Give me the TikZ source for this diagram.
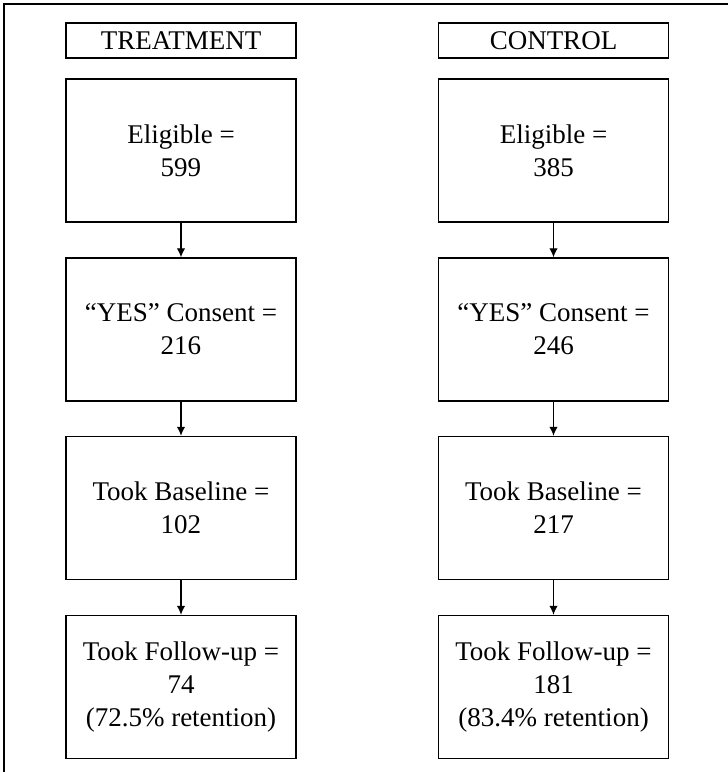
\documentclass[tikz,border=0pt]{standalone}
\usepackage{fontspec}
\setmainfont{Liberation Serif}
\usetikzlibrary{arrows.meta}
\begin{document}
\begin{tikzpicture}[x=0.5pt,y=-0.5pt,
    stagebox/.style={draw, line width=0.7pt, minimum width=115pt, minimum height=71.5pt,
      align=center, inner sep=0pt, font=\fontsize{13.5}{16.5}\selectfont},
    groupbox/.style={draw, line width=0.7pt, minimum width=115pt, minimum height=17.5pt,
      inner sep=0pt, font=\fontsize{13.5}{16.5}\selectfont},
    flow/.style={-{Latex[length=4.5pt,width=4.2pt]}, line width=0.6pt}]
        \useasboundingbox (0,0) rectangle (728,772);
        \draw[line width=0.7pt] (728,4) -- (4,4) -- (4,772);
        % treatment arm
        \node[groupbox] (treat) at (181,40.5) {TREATMENT};
        \node[stagebox] (telig) at (181,150.5) {Eligible =\\599};
        \node[stagebox] (tcons) at (181,329.5) {``YES'' Consent =\\216};
        \node[stagebox] (tbase) at (181,508) {Took Baseline =\\102};
        \node[stagebox] (tfoll) at (181,687) {Took Follow-up =\\74\\(72.5\% retention)};
        % control arm
        \node[groupbox] (ctrl) at (553.5,40.5) {CONTROL};
        \node[stagebox] (celig) at (553.5,150.5) {Eligible =\\385};
        \node[stagebox] (ccons) at (553.5,329.5) {``YES'' Consent =\\246};
        \node[stagebox] (cbase) at (553.5,508) {Took Baseline =\\217};
        \node[stagebox] (cfoll) at (553.5,687) {Took Follow-up =\\181\\(83.4\% retention)};
        \draw[flow] (telig) -- (tcons);
        \draw[flow] (tcons) -- (tbase);
        \draw[flow] (tbase) -- (tfoll);
        \draw[flow] (celig) -- (ccons);
        \draw[flow] (ccons) -- (cbase);
        \draw[flow] (cbase) -- (cfoll);
    \end{tikzpicture}
\end{document}
